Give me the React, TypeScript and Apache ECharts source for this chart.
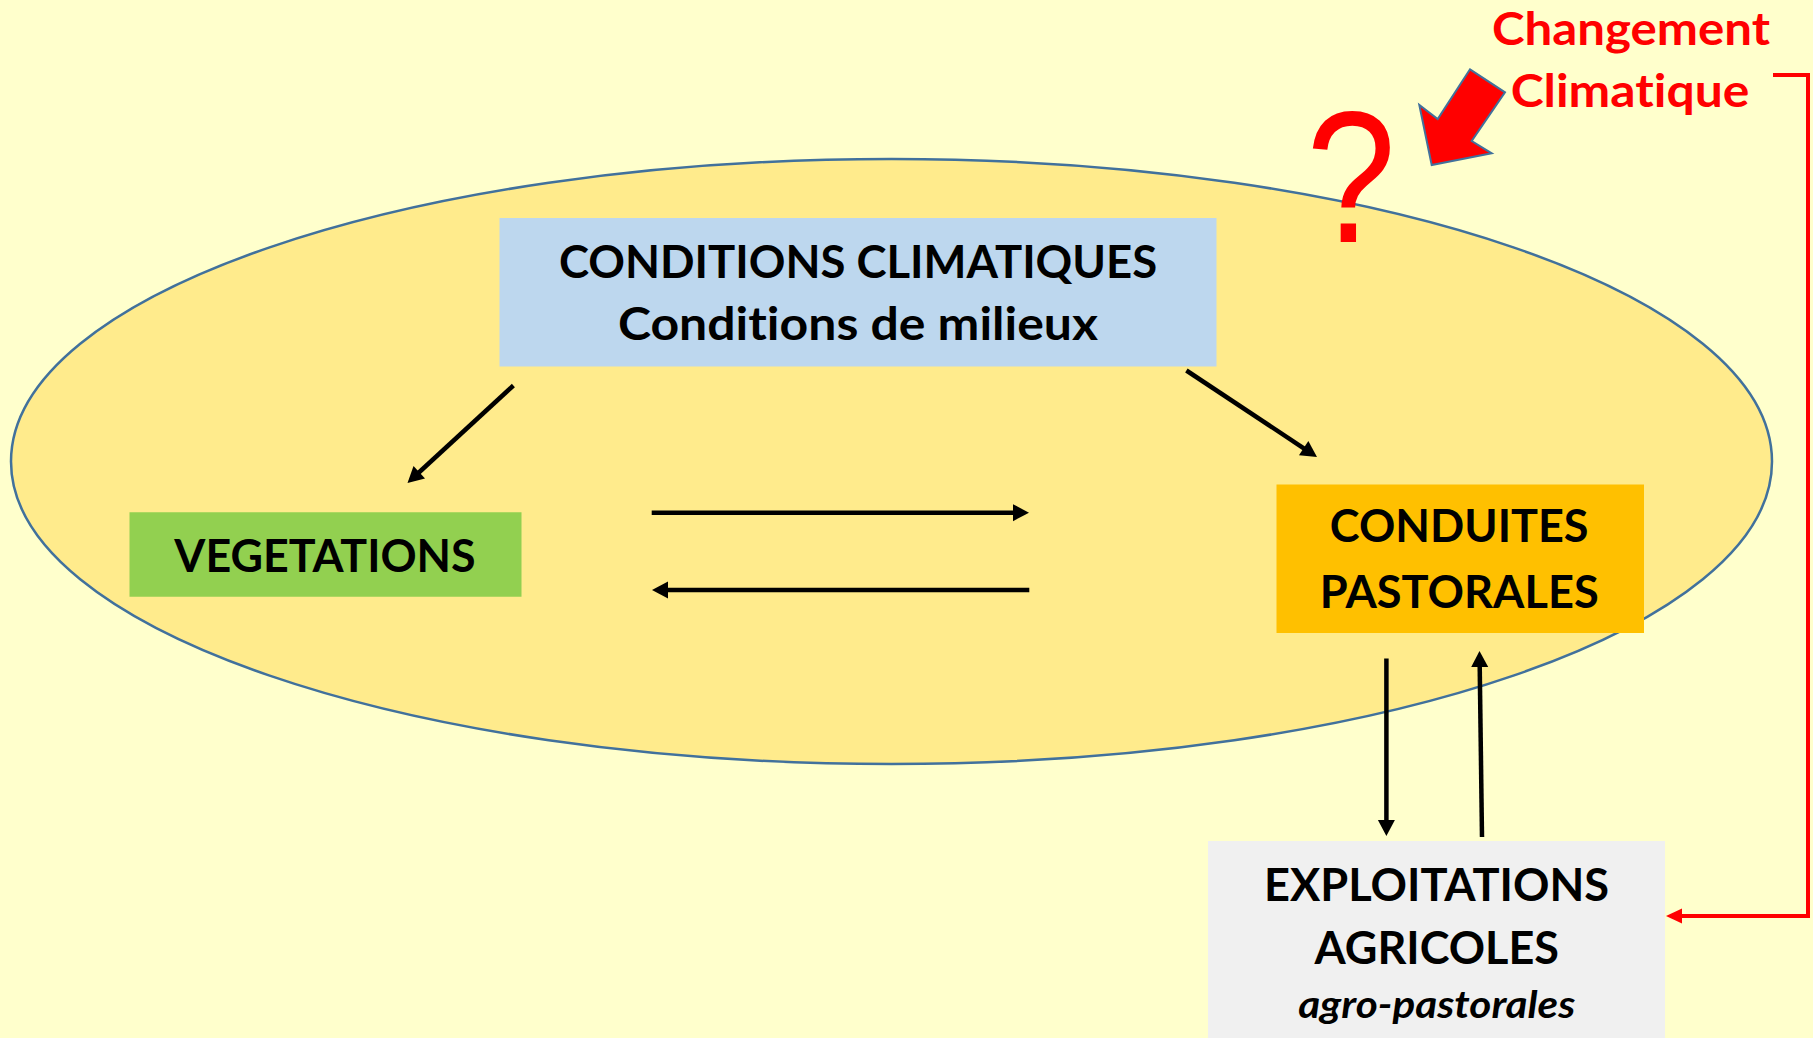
import React, { useEffect, useRef } from "react";
import * as echarts from "echarts";

// ---- content (texts of the diagram) ----
const climateLabels = ["CONDITIONS CLIMATIQUES", "Conditions de milieux"];
const vegetationLabels = ["VEGETATIONS"];
const pastoralLabels = ["CONDUITES", "PASTORALES"];
const farmLabels = ["EXPLOITATIONS", "AGRICOLES"];
const farmSubLabels = ["agro-pastorales"];
const changeLabels = ["Changement", "Climatique"];
const questionLabels = ["?"];

const W = 1813;
const H = 1038;
const FONT = "Lato";

const measureCtx = (typeof document !== "undefined"
  ? document.createElement("canvas").getContext("2d")
  : null) as CanvasRenderingContext2D | null;

function inkWidth(text: string, size: number, weight: string, fstyle: string, family: string) {
  if (!measureCtx) return 1;
  measureCtx.font = `${fstyle} ${weight} ${size}px ${family}`;
  const m = measureCtx.measureText(text);
  const w = (m.actualBoundingBoxLeft || 0) + (m.actualBoundingBoxRight || 0);
  return w > 0 ? w : m.width;
}

function fitText(
  text: string,
  cx: number,
  baseline: number,
  width: number | null,
  size: number,
  weight: string,
  fstyle: string,
  color: string,
  family: string = FONT,
  central: number = 0.387
) {
  const s = width == null ? 1 : width / inkWidth(text, size, weight, fstyle, family);
  return {
    type: "text",
    x: cx,
    y: baseline - central * size,
    scaleX: s,
    silent: true,
    z: 20,
    style: {
      text,
      fill: color,
      fontSize: size,
      fontWeight: weight,
      fontStyle: fstyle,
      fontFamily: family,
      align: "center",
      verticalAlign: "middle",
      textAlign: "center",
      textVerticalAlign: "middle",
    },
  };
}

function arrow(
  x1: number,
  y1: number,
  x2: number,
  y2: number,
  color: string,
  lw: number,
  headLen: number,
  headW: number
) {
  const dx = x2 - x1;
  const dy = y2 - y1;
  const L = Math.hypot(dx, dy);
  const ux = dx / L;
  const uy = dy / L;
  const bx = x2 - ux * headLen;
  const by = y2 - uy * headLen;
  const px = -uy;
  const py = ux;
  return [
    {
      type: "line",
      z: 10,
      silent: true,
      shape: { x1, y1, x2: bx + ux * 2, y2: by + uy * 2 },
      style: { stroke: color, lineWidth: lw },
    },
    {
      type: "polygon",
      z: 10,
      silent: true,
      shape: {
        points: [
          [x2, y2],
          [bx + (px * headW) / 2, by + (py * headW) / 2],
          [bx - (px * headW) / 2, by - (py * headW) / 2],
        ],
      },
      style: { fill: color },
    },
  ];
}

function rect(x: number, y: number, w: number, h: number, fill: string) {
  return { type: "rect", z: 5, silent: true, shape: { x, y, width: w, height: h }, style: { fill } };
}

function buildElements() {
  const els: any[] = [];
  // ellipse
  els.push({
    type: "ellipse",
    z: 1,
    silent: true,
    shape: { cx: 891.5, cy: 461.5, rx: 880.5, ry: 302.5 },
    style: { fill: "#FFEB8C", stroke: "#41719C", lineWidth: 2.5 },
  });
  // boxes
  els.push(rect(499.5, 218, 717, 148.5, "#BDD7EE"));
  els.push(rect(129.5, 512.3, 392, 84.5, "#92D050"));
  els.push(rect(1276.5, 484.5, 367.5, 148.5, "#FFC000"));
  els.push(rect(1208, 841, 457, 200, "#F0F0F0"));

  // black arrows
  const K = "#000000";
  els.push(...arrow(513.4, 385.5, 407.5, 483, K, 4.5, 16, 17));
  els.push(...arrow(1186.4, 370.5, 1317, 457, K, 4.5, 16, 17));
  els.push(...arrow(651.7, 512.7, 1029, 512.7, K, 4.5, 16, 17));
  els.push(...arrow(1029.3, 590, 652, 590, K, 4.5, 16, 17));
  els.push(...arrow(1386.4, 658.5, 1386.4, 836, K, 4.5, 16, 17));
  els.push(...arrow(1482, 837, 1479.5, 651, K, 4.5, 16, 17));

  // red connector
  els.push({
    type: "polyline",
    z: 10,
    silent: true,
    shape: { points: [[1773, 75], [1808, 75], [1808, 916], [1680, 916]] },
    style: { stroke: "#FF0000", lineWidth: 4, fill: "none", lineJoin: "miter" },
  });
  els.push({
    type: "polygon",
    z: 10,
    silent: true,
    shape: { points: [[1666, 916], [1682, 908.5], [1682, 923.5]] },
    style: { fill: "#FF0000" },
  });

  // big red block arrow
  els.push({
    type: "polygon",
    z: 12,
    silent: true,
    shape: {
      points: [
        [1470, 69.3],
        [1505, 92.3],
        [1471.7, 141],
        [1491.7, 153.3],
        [1431.7, 165],
        [1419.3, 105],
        [1437.7, 119],
      ],
    },
    style: { fill: "#FF0000", stroke: "#41719C", lineWidth: 2, lineJoin: "miter" },
  });

  // texts
  const B = "bold";
  const N = "normal";
  els.push(fitText(climateLabels[0], 858, 278.3, 596, 46, B, N, K));
  els.push(fitText(climateLabels[1], 858, 340, 480, 46, B, N, K));
  els.push(fitText(vegetationLabels[0], 325, 571.7, 301, 46, B, N, K));
  els.push(fitText(pastoralLabels[0], 1459.2, 542.5, 256.7, 46, B, N, K));
  els.push(fitText(pastoralLabels[1], 1459.2, 607.7, 274.7, 46, B, N, K));
  els.push(fitText(farmLabels[0], 1436.5, 901, 341, 46, B, N, K));
  els.push(fitText(farmLabels[1], 1436.7, 964.6, 244.2, 46, B, N, K));
  els.push(fitText(farmSubLabels[0], 1436.7, 1018.5, 276.7, 38, B, "italic", K));
  els.push(fitText(changeLabels[0], 1631, 45, 277, 46, B, N, "#FF0000"));
  els.push(fitText(changeLabels[1], 1630, 106.7, 238, 46, B, N, "#FF0000"));
  els.push(
    fitText(questionLabels[0], 1351, 242, 78, 188, N, N, "#FF0000", "Liberation Sans", 0.3465)
  );
  return els;
}

export default function App() {
  const ref = useRef<HTMLDivElement>(null);
  useEffect(() => {
    if (!ref.current) return;
    const chart = echarts.init(ref.current, null, { renderer: "svg", width: W, height: H });
    chart.setOption({
      animation: false,
      backgroundColor: "#FFFFCC",
      graphic: { elements: buildElements() },
    });
    return () => {
      chart.dispose();
    };
  }, []);
  return (
    <>
      <style>
        {
          "#root svg text{font-variant-ligatures:none !important;font-feature-settings:'liga' 0,'clig' 0 !important;}"
        }
      </style>
      <div
        ref={ref}
        style={{ position: "fixed", left: 0, top: 0, width: W, height: H, overflow: "hidden" }}
      />
    </>
  );
}
